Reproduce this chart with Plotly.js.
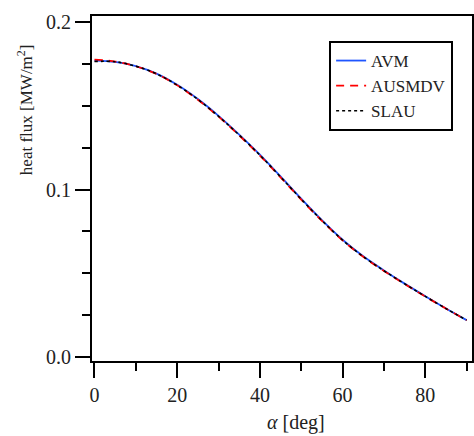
<!DOCTYPE html>
<html>
<head>
<meta charset="utf-8">
<script src="https://cdn.plot.ly/plotly-3.0.1.min.js"></script>
<style>html,body{margin:0;padding:0;background:#fff;}#chart{width:474px;height:436px;}</style>
</head>
<body>
<div id="chart"></div>
<script>
const alpha  = [0, 5, 10, 15, 20, 25, 30, 35, 40, 45, 50, 55, 60, 65, 70, 75, 80, 85, 90];
const avm    = [0.1770, 0.1762, 0.1737, 0.1692, 0.1625, 0.1540, 0.1440, 0.1328, 0.1208, 0.1078, 0.0945, 0.0817, 0.0700, 0.0601, 0.0517, 0.0438, 0.0363, 0.0290, 0.0220];
const ausmdv = [0.1776, 0.1764, 0.1736, 0.1690, 0.1622, 0.1536, 0.1435, 0.1323, 0.1203, 0.1073, 0.0940, 0.0813, 0.0696, 0.0598, 0.0514, 0.0436, 0.0361, 0.0289, 0.0219];
const slau   = [0.1764, 0.1763, 0.1736, 0.1691, 0.1623, 0.1538, 0.1437, 0.1325, 0.1205, 0.1075, 0.0942, 0.0815, 0.0698, 0.0599, 0.0515, 0.0437, 0.0362, 0.0289, 0.0220];
const names  = ['AVM', 'AUSMDV', 'SLAU'];
const xTitle = '<i>α</i> [deg]';
const yTitle = 'heat flux [MW/m<sup>2</sup>]';

const serif = 'Liberation Serif, Times New Roman, serif';
const traces = [
  {x: alpha, y: avm, name: names[0], mode: 'lines', line: {color: '#1f55ff', width: 1.8, shape: 'spline'}},
  {x: alpha, y: ausmdv, name: names[1], mode: 'lines', line: {color: '#ff0000', width: 1.8, dash: '8px,6px', shape: 'spline'}},
  {x: alpha, y: slau, name: names[2], mode: 'lines', line: {color: '#000000', width: 1.6, dash: 'dot', shape: 'spline'}}
];
const minorCommon = {ticks: 'outside', ticklen: 8, tickwidth: 2, tickcolor: '#000', showgrid: false};
const axisCommon = {
  showgrid: false, zeroline: false, showline: true, linecolor: '#000', linewidth: 2,
  mirror: true, ticks: 'outside', tickcolor: '#000', tickwidth: 2, ticklen: 15,
  tickfont: {family: serif, size: 20, color: '#222'}
};
const layout = {
  width: 474, height: 436,
  margin: {l: 92, r: 2, t: 16, b: 75},
  paper_bgcolor: '#fff', plot_bgcolor: '#fff',
  font: {family: serif, color: '#222'},
  showlegend: true,
  legend: {
    x: 0.624, y: 0.9275, xanchor: 'left', yanchor: 'top',
    bordercolor: '#000', borderwidth: 2, bgcolor: '#fff',
    font: {family: serif, size: 17, color: '#222'},
    tracegroupgap: 0
  },
  xaxis: Object.assign({}, axisCommon, {
    range: [-0.6, 91.3], dtick: 20, tick0: 0,
    minor: Object.assign({dtick: 10, tick0: 0}, minorCommon)
  }),
  yaxis: Object.assign({}, axisCommon, {
    range: [-0.0024, 0.2036], dtick: 0.1, tick0: 0, tickformat: '.1f',
    minor: Object.assign({dtick: 0.025, tick0: 0}, minorCommon)
  }),
  annotations: [
    {text: xTitle, xref: 'paper', yref: 'paper', x: 0.537, y: -0.14, xanchor: 'center', yanchor: 'top',
     showarrow: false, font: {family: serif, size: 20, color: '#222'}},
    {text: yTitle, xref: 'paper', yref: 'paper', x: -0.176, y: 0.7275, xanchor: 'center', yanchor: 'middle',
     textangle: -90, showarrow: false, font: {family: serif, size: 17, color: '#222'}}
  ]
};
Plotly.newPlot('chart', traces, layout, {displayModeBar: false, staticPlot: true});
</script>
</body>
</html>
